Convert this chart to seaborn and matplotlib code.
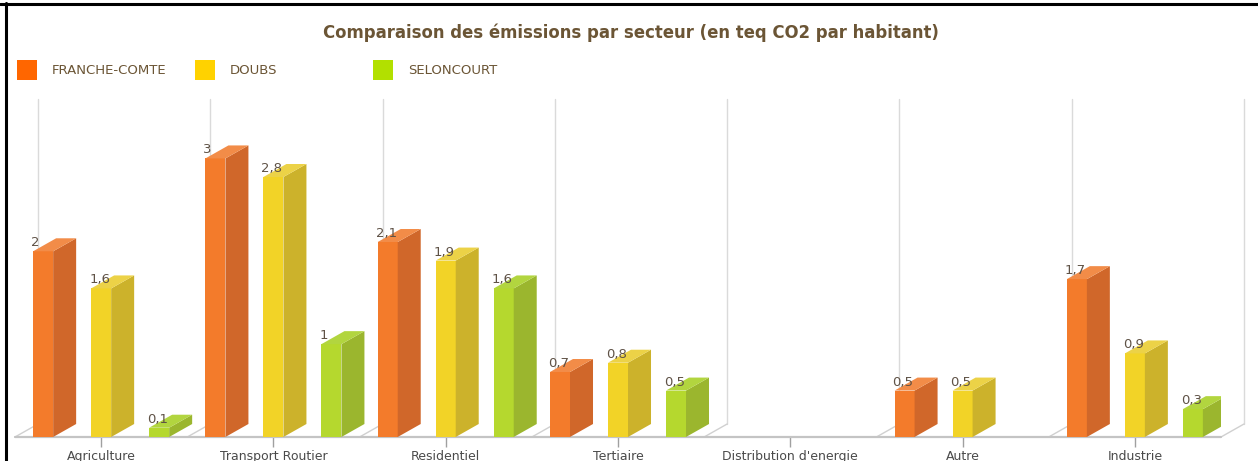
import numpy as np
import pandas as pd
import seaborn as sns
import matplotlib.pyplot as plt
from matplotlib.patches import Polygon, Rectangle
from matplotlib.lines import Line2D

# Data
secteurs = ["Agriculture", "Transport Routier", "Residentiel", "Tertiaire",
            "Distribution d'energie", "Autre", "Industrie"]
series = ["FRANCHE-COMTE", "DOUBS", "SELONCOURT"]
franche_comte = [2, 3, 2.1, 0.7, 0, 0.5, 1.7]
doubs = [1.6, 2.8, 1.9, 0.8, 0, 0.5, 0.9]
seloncourt = [0.1, 1, 1.6, 0.5, 0, 0, 0.3]

front_colors = ["#F37B2B", "#F2D327", "#B5D82E"]
side_colors = ["#D0672A", "#CCB22B", "#9BB62E"]
top_colors = ["#F28C48", "#ECD247", "#B2D53F"]
legend_colors = ["#FF6600", "#FFD200", "#B2E000"]
text_color = "#6B5535"

df = pd.DataFrame({
    "secteur": secteurs * 3,
    "serie": np.repeat(series, len(secteurs)),
    "valeur": franche_comte + doubs + seloncourt,
})

W, H = 1258, 461
fig = plt.figure(figsize=(W / 100, H / 100), dpi=100)
sns.set_style("white")
plt.rcParams['font.family'] = ['DejaVu Sans']

# axes area in pixels
left, right, bottom, top = 15, 1221, 437, 99
ax = fig.add_axes([left / W, (H - bottom) / H, (right - left) / W, (bottom - top) / H])

sns.barplot(data=df, x="secteur", y="valeur", hue="serie", order=secteurs,
            hue_order=series, palette=front_colors, width=1.01, gap=0.655,
            saturation=1, legend=False, ax=ax, linewidth=0, err_kws={'linewidth': 0})

ymax = 3.64
ax.set_xlim(-0.5, len(secteurs) - 0.5)
ax.set_ylim(0, ymax)

# 3D depth offset in data units (23 px right, 13 px up)
px_x = (right - left) / len(secteurs)
px_y = (bottom - top) / ymax
dx = 23 / px_x
dy = 13 / px_y

# back wall vertical grid lines and floor diagonals
for b in np.arange(-0.5, len(secteurs) + 0.5, 1.0):
    ax.plot([b + dx, b + dx], [dy, ymax], color="#dadada", lw=1, clip_on=False, zorder=0.5)
    ax.plot([b, b + dx], [0, dy], color="#d0d0d0", lw=1, clip_on=False, zorder=0.5)
ax.plot([-0.5, len(secteurs) - 0.5], [0, 0], color="#c4c4c4", lw=1.6, clip_on=False, zorder=0.6)

# side and top faces for each bar + value labels
for i, bar in enumerate(ax.patches[:len(df)]):
    s = i // len(secteurs)
    h = bar.get_height()
    if not h or np.isnan(h):
        continue
    x0 = bar.get_x()
    x1 = x0 + bar.get_width()
    bar.set_zorder(2)
    side = Polygon([(x1, 0), (x1 + dx, dy), (x1 + dx, h + dy), (x1, h)],
                   closed=True, facecolor=side_colors[s], edgecolor="none", zorder=2)
    topf = Polygon([(x0, h), (x1, h), (x1 + dx, h + dy), (x0 + dx, h + dy)],
                   closed=True, facecolor=top_colors[s], edgecolor="none", zorder=2)
    ax.add_patch(side)
    ax.add_patch(topf)
    label = f"{h:g}".replace(".", ",")
    ax.text(x0 - 2 / px_x, h + 5 / px_y, label, ha="left", va="baseline",
            fontsize=9.5, color="#5f5246", zorder=3)

sns.despine(ax=ax, left=True, bottom=True)
ax.set_yticks([])
ax.set_xlabel("")
ax.set_ylabel("")
ax.tick_params(axis="x", length=7, width=1, color="#a0a0a0", pad=2,
               labelsize=9, labelcolor="#4a4a4a", bottom=True)
ax.patch.set_alpha(0)

# title
fig.text(631 / W, 1 - 33 / H, "Comparaison des émissions par secteur (en teq CO2 par habitant)",
         ha="center", va="center", fontsize=11.9, fontweight="bold", color=text_color)

# legend
leg_x = [17, 195, 373]
for name, col, lx in zip(series, legend_colors, leg_x):
    fig.add_artist(Rectangle((lx / W, 1 - 80 / H), 20 / W, 20 / H,
                             transform=fig.transFigure, facecolor=col, edgecolor="none"))
    fig.text((lx + 35) / W, 1 - 71 / H, name, ha="left", va="center",
             fontsize=9.5, color=text_color)

# frame lines (top and left)
fig.add_artist(Line2D([0, 1], [1 - 4.5 / H] * 2, transform=fig.transFigure, color="black", lw=2.2))
fig.add_artist(Line2D([5.5 / W] * 2, [0, 1 - 3 / H], transform=fig.transFigure, color="black", lw=2.2))

fig.savefig("out.png", dpi=100)
